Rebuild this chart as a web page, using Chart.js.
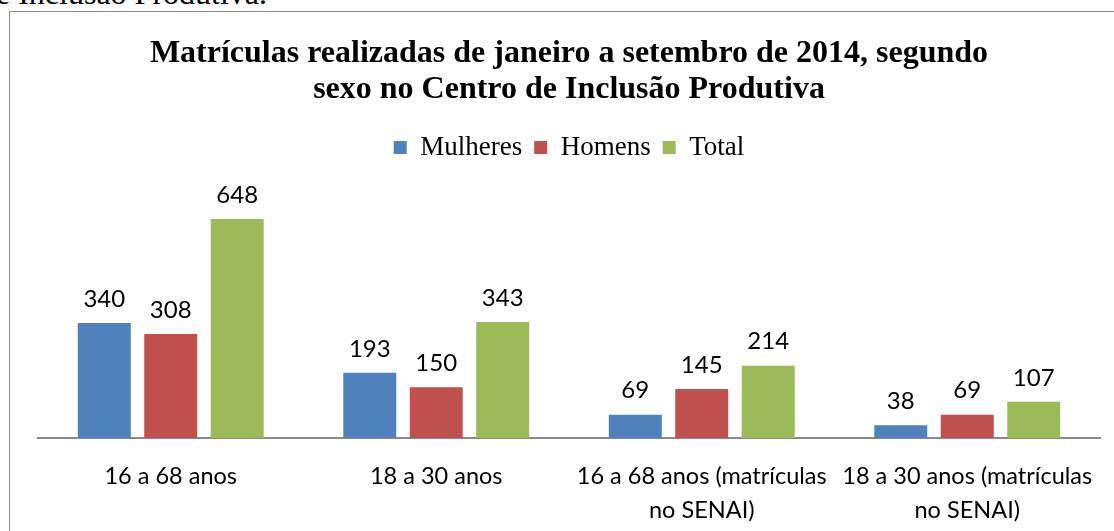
<!DOCTYPE html>
<html>
<head>
<meta charset="utf-8">
<script src="https://cdn.jsdelivr.net/npm/chart.js@4/dist/chart.umd.min.js"></script>
<style>
  html, body { margin: 0; padding: 0; background: #fff; overflow: hidden; }
  #doctext {
    position: absolute; left: -4px; top: -25px;
    font: 32px "Liberation Serif", "Times New Roman", serif; color: #000;
    white-space: nowrap; line-height: 36px;
  }
  #frame {
    position: absolute; left: 9px; top: 11px; width: 1200px; height: 600px;
    border: 1.5px solid #8a8a8a;
  }
  #wrap { position: absolute; left: 0; top: 0; width: 1114px; height: 531px; }
</style>
</head>
<body>
<div id="doctext">e Inclusão Produtiva.</div>
<div id="frame"></div>
<div id="wrap"><canvas id="chart"></canvas></div>
<script>
const categories = [
    "16 a 68 anos",
    "18 a 30 anos",
    ["16 a 68 anos (matrículas", "no SENAI)"],
    ["18 a 30 anos (matrículas", "no SENAI)"]
];
const mulheres = [340, 193, 69, 38];
const homens   = [308, 150, 145, 69];
const total    = [648, 343, 214, 107];

const titleLines = [
    "Matrículas realizadas de janeiro a setembro de 2014, segundo",
    "sexo no Centro de Inclusão Produtiva"
];

// rotulos de valor em cima das barras
const valueLabels = {
    id: "valueLabels",
    afterDatasetsDraw(chart) {
        const ctx = chart.ctx;
        ctx.save();
        ctx.font = "24px Lato, 'Open Sans', sans-serif";
        ctx.fillStyle = "#000";
        ctx.textAlign = "center";
        ctx.textBaseline = "middle";
        chart.data.datasets.forEach((ds, i) => {
            chart.getDatasetMeta(i).data.forEach((bar, j) => {
                ctx.fillText(ds.data[j], bar.x, bar.y - 24);
            });
        });
        ctx.restore();
    }
};

new Chart(document.getElementById("chart"), {
    type: "bar",
    data: {
        labels: categories,
        datasets: [
            { label: "Mulheres", data: mulheres, backgroundColor: "#4F81BD" },
            { label: "Homens",   data: homens,   backgroundColor: "#C0504D" },
            { label: "Total",    data: total,    backgroundColor: "#9BBB59" }
        ]
    },
    options: {
        responsive: true,
        maintainAspectRatio: false,
        animation: false,
        categoryPercentage: 0.751,
        barPercentage: 0.797,
        layout: { padding: { left: 38, right: 14, top: 20, bottom: 0 } },
        plugins: {
            title: {
                display: true,
                text: titleLines,
                color: "#000",
                font: { family: "'Liberation Serif', 'Times New Roman', serif", size: 32, weight: "bold", lineHeight: 1.125 },
                padding: { top: 16, bottom: 14 }
            },
            legend: {
                position: "top",
                labels: {
                    color: "#000",
                    font: { family: "'Liberation Serif', 'Times New Roman', serif", size: 27 },
                    boxWidth: 13,
                    boxHeight: 13,
                    padding: 12
                }
            },
            tooltip: { enabled: false }
        },
        scales: {
            x: {
                grid: { display: false },
                border: { display: true, color: "#8a8a8a", width: 2 },
                ticks: {
                    color: "#000",
                    font: { family: "Lato, 'Open Sans', sans-serif", size: 23.5, lineHeight: 1.45 },
                    padding: 13,
                    autoSkip: false,
                    maxRotation: 0
                },
                afterFit(scale) { scale.height = 93; }
            },
            y: {
                display: false,
                beginAtZero: true,
                max: 790
            }
        }
    },
    plugins: [valueLabels]
});
</script>
</body>
</html>
